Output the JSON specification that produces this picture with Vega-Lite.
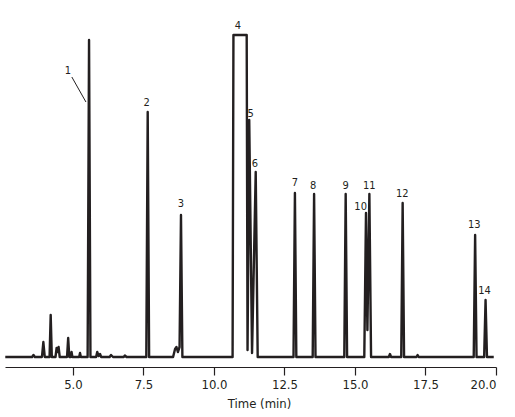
{
  "$schema": "https://vega.github.io/schema/vega-lite/v6.json",
  "autosize": "none",
  "width": 491,
  "height": 347,
  "padding": {"left": 5, "top": 20, "right": 19, "bottom": 50},
  "background": "white",
  "config": {"view": {"stroke": null}, "font": "'DejaVu Sans Condensed', 'Liberation Sans', sans-serif"},
  "datasets": {
    "trace": [
      {"t":2.6,"v":0},{"t":3.55,"v":0},{"t":3.6,"v":2},{"t":3.65,"v":0},{"t":3.9,"v":0},{"t":3.95,"v":15},{"t":4.0,"v":0},
      {"t":4.17,"v":0},{"t":4.21,"v":42},{"t":4.25,"v":0},{"t":4.38,"v":0},{"t":4.42,"v":9},{"t":4.45,"v":5},{"t":4.49,"v":10},{"t":4.53,"v":0},
      {"t":4.79,"v":0},{"t":4.83,"v":19},{"t":4.87,"v":0},{"t":4.92,"v":0},{"t":4.95,"v":5},{"t":4.98,"v":0},{"t":5.22,"v":0},{"t":5.25,"v":4},{"t":5.28,"v":0},
      {"t":5.52,"v":0},{"t":5.57,"v":317},{"t":5.62,"v":0},{"t":5.82,"v":0},{"t":5.86,"v":5},{"t":5.91,"v":1},{"t":5.96,"v":3},{"t":6.0,"v":0},
      {"t":6.3,"v":0},{"t":6.35,"v":2},{"t":6.42,"v":0},{"t":6.8,"v":0},{"t":6.84,"v":1.5},{"t":6.9,"v":0},
      {"t":7.6,"v":0},{"t":7.65,"v":245},{"t":7.7,"v":0},{"t":8.55,"v":0},{"t":8.62,"v":8},{"t":8.67,"v":10},{"t":8.72,"v":5},{"t":8.78,"v":10},{"t":8.83,"v":142},{"t":8.88,"v":0},
      {"t":10.66,"v":0},{"t":10.69,"v":322},{"t":11.16,"v":322},{"t":11.19,"v":7},{"t":11.25,"v":237},{"t":11.35,"v":4},{"t":11.48,"v":185},{"t":11.55,"v":0},
      {"t":12.82,"v":0},{"t":12.87,"v":164},{"t":12.92,"v":0},{"t":13.5,"v":0},{"t":13.55,"v":163},{"t":13.6,"v":0},
      {"t":14.62,"v":0},{"t":14.67,"v":163},{"t":14.72,"v":0},{"t":15.33,"v":0},{"t":15.39,"v":144},{"t":15.44,"v":27},{"t":15.51,"v":163},{"t":15.57,"v":0},
      {"t":16.2,"v":0},{"t":16.24,"v":3},{"t":16.28,"v":0},{"t":16.64,"v":0},{"t":16.69,"v":154},{"t":16.74,"v":0},
      {"t":17.18,"v":0},{"t":17.22,"v":2},{"t":17.26,"v":0},{"t":19.21,"v":0},{"t":19.26,"v":122},{"t":19.31,"v":0},
      {"t":19.58,"v":0},{"t":19.63,"v":57},{"t":19.68,"v":0},{"t":19.92,"v":0}
    ],
    "labels": [
      {"label":"1","t":4.82,"v":286},{"label":"2","t":7.61,"v":254},{"label":"3","t":8.83,"v":153},
      {"label":"4","t":10.85,"v":331},{"label":"5","t":11.3,"v":243},{"label":"6","t":11.45,"v":193},
      {"label":"7","t":12.87,"v":174},{"label":"8","t":13.52,"v":171},{"label":"9","t":14.67,"v":171},
      {"label":"10","t":15.2,"v":150},{"label":"11","t":15.51,"v":171},{"label":"12","t":16.68,"v":163},
      {"label":"13","t":19.23,"v":132},{"label":"14","t":19.59,"v":66}
    ],
    "leader": [{"t":4.96,"v":280,"t2":5.46,"v2":255}]
  },
  "layer": [
    {
      "data": {"name": "trace"},
      "mark": {"type": "line", "color": "#231f20", "strokeWidth": 2.4, "strokeJoin": "round", "clip": false},
      "encoding": {
        "x": {"field": "t", "type": "quantitative",
              "scale": {"domain": [2.59, 20], "nice": false, "zero": false},
              "axis": {"values": [5, 7.5, 10, 12.5, 15, 17.5, 20], "format": ".1f", "title": "Time (min)",
                       "grid": false, "domainColor": "#231f20", "domainWidth": 1.2, "tickColor": "#231f20",
                       "tickSize": 8, "tickWidth": 1.2, "labelFontSize": 13, "labelColor": "#231f20",
                       "labelPadding": 3, "titleFontSize": 13, "titleFontWeight": "normal", "titleColor": "#231f20",
                       "titlePadding": 6, "titleX": 254}},
        "y": {"field": "v", "type": "quantitative",
              "scale": {"domain": [-10, 337], "nice": false, "zero": false}, "axis": null}
      }
    },
    {
      "data": {"name": "leader"},
      "mark": {"type": "rule", "color": "#231f20", "strokeWidth": 1},
      "encoding": {
        "x": {"field": "t", "type": "quantitative"},
        "y": {"field": "v", "type": "quantitative"},
        "x2": {"field": "t2"},
        "y2": {"field": "v2"}
      }
    },
    {
      "data": {"name": "labels"},
      "mark": {"type": "text", "fontSize": 11, "color": "#231f20", "baseline": "middle", "align": "center", "clip": false},
      "encoding": {
        "x": {"field": "t", "type": "quantitative"},
        "y": {"field": "v", "type": "quantitative"},
        "text": {"field": "label"}
      }
    }
  ]
}
